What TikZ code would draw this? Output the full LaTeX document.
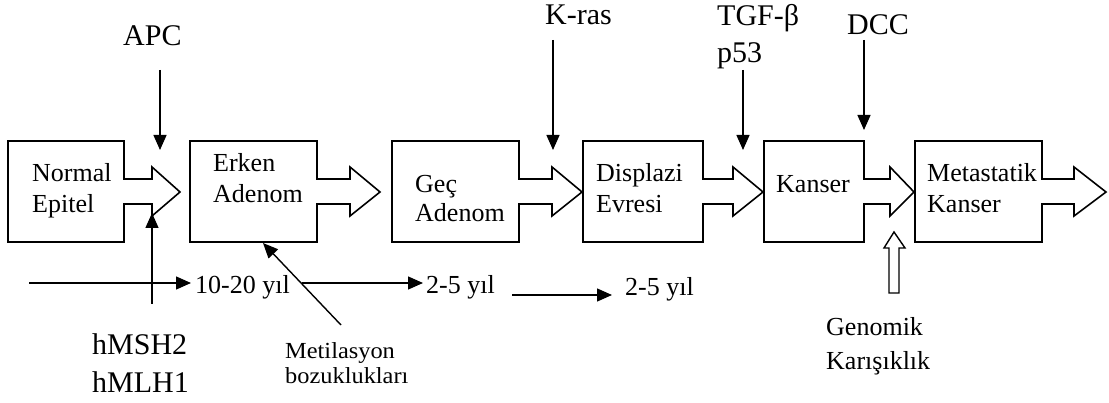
\documentclass[tikz,border=0pt]{standalone}
\usepackage{fontspec}
\setmainfont{Liberation Serif}
\usetikzlibrary{arrows.meta}
\newcommand\stageoutline[4]{% L R B T
  \draw[stage] (#1,141) -- (#2,141) -- (#2,179) -- (#3,179) -- (#3,167) -- (#4,192)
    -- (#3,216) -- (#3,204) -- (#2,204) -- (#2,242) -- (#1,242) -- cycle;}
\begin{document}
\begin{tikzpicture}[x=1pt,y=-1pt,
  stage/.style={draw=black,line width=1.6pt,line join=miter},
  lbl/.style={anchor=base west,inner sep=0pt,font=\fontsize{26}{31}\selectfont},
  gene/.style={anchor=base west,inner sep=0pt,font=\fontsize{30}{36}\selectfont},
  small/.style={anchor=base west,inner sep=0pt,font=\fontsize{23}{26}\selectfont},
  conn/.style={line width=1.4pt,-{Triangle[length=15pt,width=13pt]}},
  hollow/.style={draw=black,line width=1.4pt,line join=miter}]
\useasboundingbox (0,0) rectangle (1109,403);
% stage outlines
\stageoutline{8}{124}{152}{180}
\stageoutline{190}{317}{350}{380}
\stageoutline{392}{519}{552}{582}
\stageoutline{583}{703}{733}{763}
\stageoutline{764}{864}{890}{914}
\stageoutline{915}{1042}{1074}{1106}
% stage texts
\node[lbl] (s1a) at (32,182) {Normal};
\node[lbl] (s1b) at (32,213) {Epitel};
\node[lbl] (s2a) at (213,172) {Erken};
\node[lbl] (s2b) at (213,203) {Adenom};
\node[lbl] (s3a) at (415,193) {Geç};
\node[lbl] (s3b) at (415,222) {Adenom};
\node[lbl] (s4a) at (596,182) {Displazi};
\node[lbl] (s4b) at (596,213) {Evresi};
\node[lbl] (s5a) at (776,193) {Kanser};
\node[lbl] (s6a) at (927,182) {Metastatik};
\node[lbl] (s6b) at (927,213) {Kanser};
% gene labels
\node[gene] (apc) at (123,46) {APC};
\node[gene] (kras) at (545,25) {K-ras};
\node[gene] (tgf) at (717,26) {TGF-β};
\node[gene] (p53) at (717,63) {p53};
\node[gene] (dcc) at (847,35) {DCC};
\node[gene] (msh) at (92,355) {hMSH2};
\node[gene] (mlh) at (92,392) {hMLH1};
\node[small] (met1) at (285,359) {\scalebox{1.06}[1]{Metilasyon}};
\node[small] (met2) at (285,384) {\scalebox{1.06}[1]{bozuklukları}};
\node[lbl] (gen1) at (826,336) {Genomik};
\node[lbl] (gen2) at (826,370) {Karışıklık};
% timeline texts
\node[lbl] (t1) at (195,294) {10-20 yıl};
\node[lbl] (t2) at (426,294) {2-5 yıl};
\node[lbl] (t3) at (625,296) {2-5 yıl};
% connector end points
\coordinate (apcS) at (160,70);  \coordinate (apcE) at (160,150);
\coordinate (krasS) at (553,40); \coordinate (krasE) at (553,150);
\coordinate (p53S) at (743,70);  \coordinate (p53E) at (743,150);
\coordinate (dccS) at (864,40);  \coordinate (dccE) at (864,130);
\coordinate (mshS) at (152,304); \coordinate (mshE) at (152,213);
\coordinate (metS) at (341,325); \coordinate (metE) at (263,243);
\coordinate (l1S) at (29,283);   \coordinate (l1E) at (191,283);
\coordinate (l2S) at (302,283);  \coordinate (l2E) at (423,283);
\coordinate (l3S) at (512,295);  \coordinate (l3E) at (612,295);
\draw[conn] (apcS) -- (apcE);
\draw[conn] (krasS) -- (krasE);
\draw[conn] (p53S) -- (p53E);
\draw[conn] (dccS) -- (dccE);
\draw[conn] (mshS) -- (mshE);
\draw[conn] (metS) -- (metE);
\draw[conn] (l1S) -- (l1E);
\draw[conn] (l2S) -- (l2E);
\draw[conn] (l3S) -- (l3E);
% hollow arrow (Genomik)
\draw[hollow] (889,293) -- (889,248) -- (884,248) -- (894,232) -- (905,248)
  -- (899,248) -- (899,293) -- cycle;
\end{tikzpicture}
\end{document}
